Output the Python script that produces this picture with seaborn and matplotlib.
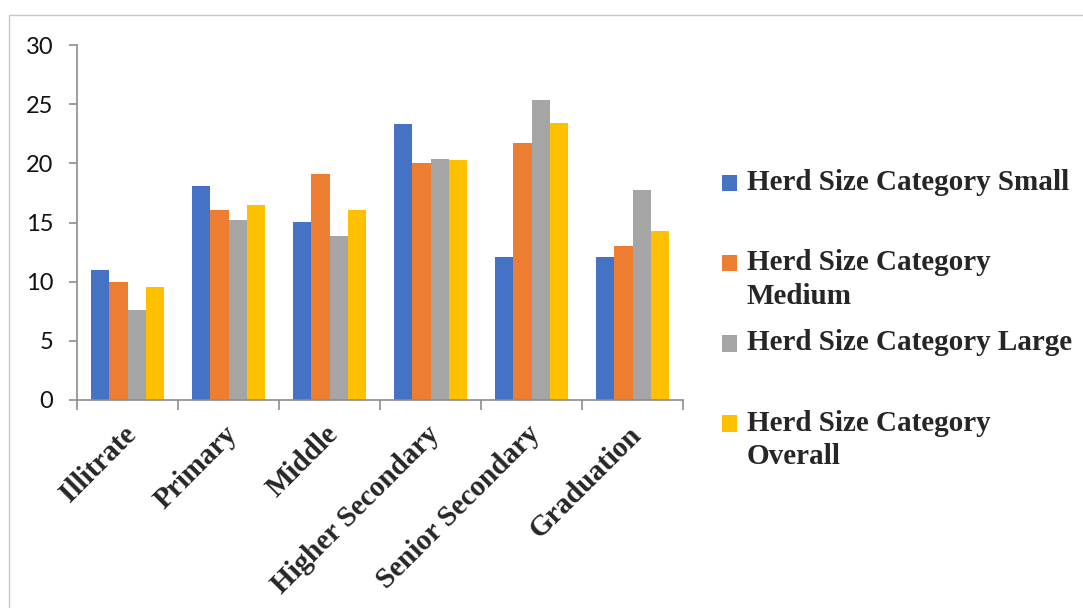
import matplotlib
matplotlib.use("Agg")
import matplotlib.pyplot as plt
import matplotlib.transforms as mtransforms
from matplotlib.patches import Rectangle
import seaborn as sns
import pandas as pd

# data
education = ["Illitrate", "Primary", "Middle", "Higher Secondary",
             "Senior Secondary", "Graduation"]
small = [11.0, 18.1, 15.05, 23.35, 12.1, 12.1]
medium = [10.0, 16.05, 19.1, 20.05, 21.7, 13.0]
large = [7.6, 15.2, 13.85, 20.35, 25.35, 17.75]
overall = [9.55, 16.5, 16.05, 20.3, 23.4, 14.3]

series_names = ["Herd Size Category Small", "Herd Size Category Medium",
                "Herd Size Category Large", "Herd Size Category Overall"]
legend_labels = ["Herd Size Category Small\n", "Herd Size Category\nMedium",
                 "Herd Size Category Large\n", "Herd Size Category\nOverall"]
colors = ["#4472C4", "#ED7D31", "#A5A5A5", "#FFC000"]
y_ticks = [0, 5, 10, 15, 20, 25, 30]

rows = []
for name, vals in zip(series_names, [small, medium, large, overall]):
    for cat, v in zip(education, vals):
        rows.append({"Education": cat, "Series": name, "Value": v})
df = pd.DataFrame(rows)

sns.set_style("white")
plt.rcParams['font.family'] = ['Lato', 'DejaVu Sans']
serif = ["Liberation Serif", "DejaVu Serif"]

fig = plt.figure(figsize=(10.83, 6.08), dpi=100)
ax = fig.add_axes([77 / 1083, 1 - 400 / 608, (683 - 77) / 1083, (400 - 45) / 608])

sns.barplot(data=df, x="Education", y="Value", hue="Series",
            palette=colors, saturation=1, width=0.72, gap=0, linewidth=0,
            order=education, hue_order=series_names, ax=ax, legend=False)

ax.set_xlim(-0.5, len(education) - 0.5)
ax.set_ylim(0, 30)
ax.set_yticks(y_ticks)
ax.set_xlabel("")
ax.set_ylabel("")

spine_col = "#8c8c8c"
for side in ["top", "right"]:
    ax.spines[side].set_visible(False)
for side in ["left", "bottom"]:
    ax.spines[side].set_color(spine_col)
    ax.spines[side].set_linewidth(1.2)

ax.tick_params(axis="y", left=True, length=6, width=1.2, color=spine_col,
               labelsize=17, labelcolor="#111111", pad=11)
# ticks between the categories
ax.set_xticks([i - 0.5 for i in range(len(education) + 1)], minor=True)
ax.tick_params(axis="x", which="minor", bottom=True, length=7, width=1.2,
               color=spine_col)
ax.tick_params(axis="x", which="major", bottom=False, length=0, pad=15)
ax.set_xticks(range(len(education)))
ax.set_xticklabels(education, rotation=45, ha="right", rotation_mode="anchor",
                   fontsize=21, fontweight="bold", family=serif)
offset = mtransforms.ScaledTranslation(-5 / 100, 0, fig.dpi_scale_trans)
for lab in ax.get_xticklabels():
    lab.set_transform(lab.get_transform() + offset)

handles = [Rectangle((0, 0), 1, 1, facecolor=c, edgecolor="none") for c in colors]
leg = fig.legend(handles, legend_labels, loc="upper left",
                 bbox_to_anchor=(722 / 1083, 1 - 169 / 608), frameon=False,
                 prop={"family": serif, "weight": "bold", "size": 21},
                 handlelength=0.5, handleheight=0.5, handletextpad=0.35,
                 labelspacing=0.66, borderpad=0, borderaxespad=0)
for t in leg.get_texts():
    t.set_linespacing(1.33)
# put each square next to the first line of its label
for h in leg.legend_handles:
    h.set_y(h.get_y() + 12)

# outer chart border
fig.add_artist(Rectangle((9 / 1083, -0.1), 1.2, 1 - 15 / 608 + 0.1,
                         transform=fig.transFigure, fill=False,
                         edgecolor="#c8c8c8", linewidth=1))

fig.savefig("out.png", dpi=100)
